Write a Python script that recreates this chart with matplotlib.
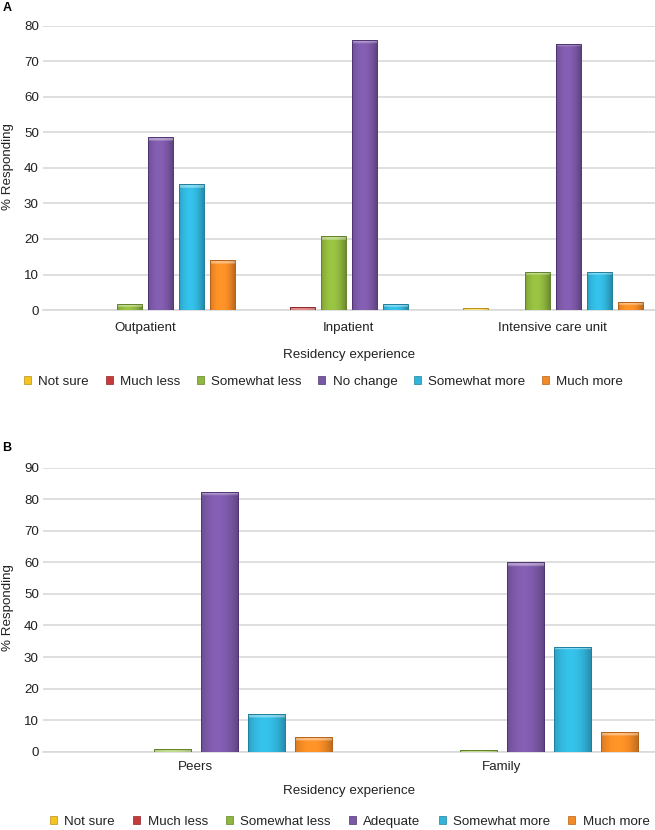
import numpy as np
import matplotlib
matplotlib.use("Agg")
import matplotlib.pyplot as plt
from matplotlib.patches import Patch
from matplotlib.colors import to_rgb

plt.rcParams['font.family'] = ['Liberation Sans', 'DejaVu Sans']

# panel A data
cats_a = ["Outpatient", "Inpatient", "Intensive care unit"]
series_a = ["Not sure", "Much less", "Somewhat less", "No change", "Somewhat more", "Much more"]
not_sure_a = [0, 0, 0.5]
much_less_a = [0, 0.8, 0]
somewhat_less_a = [1.8, 20.8, 10.8]
no_change_a = [48.6, 76.0, 75.0]
somewhat_more_a = [35.4, 1.8, 10.8]
much_more_a = [14.0, 0, 2.3]

# panel B data
cats_b = ["Peers", "Family"]
series_b = ["Not sure", "Much less", "Somewhat less", "Adequate", "Somewhat more", "Much more"]
not_sure_b = [0, 0]
much_less_b = [0, 0]
somewhat_less_b = [0.9, 0.5]
adequate_b = [82.3, 60.1]
somewhat_more_b = [11.8, 33.3]
much_more_b = [4.7, 6.3]

colors = ["#F3C51E", "#C63A3B", "#8FB63E", "#7B58A6", "#31B4DA", "#F28A25"]
edges = ["#B8901A", "#8E2626", "#62822A", "#4F3473", "#1F7F9C", "#B2621A"]
FS = 9.6

fig = plt.figure(figsize=(6.55, 8.30), dpi=100)
ax_a = fig.add_axes([0.0656, 0.6265, 0.934, 0.3422])
ax_b = fig.add_axes([0.0656, 0.0943, 0.934, 0.3422])

# horizontal shading profile for the bevelled look
prof = np.linspace(-1, 1, 40)
shade = 1.08 - 0.25 * prof ** 2 - 0.06 * prof


def shaded_bar(ax, bar, color, cap):
    x0, y0 = bar.get_x(), bar.get_y()
    w, h = bar.get_width(), bar.get_height()
    if h <= 0:
        return
    rgb = np.array(to_rgb(color))
    n = 100
    img = np.clip(shade[None, :, None] * rgb[None, None, :] * np.ones((n, 1, 1)), 0, 1)
    rows = int(round(n * min(cap / h, 1.0)))
    if rows > 0:
        img[:rows] = np.clip(img[:rows] * 0.6 + 0.4, 0, 1)
    im = ax.imshow(img, extent=[x0, x0 + w, y0, y0 + h], aspect='auto',
                   origin='upper', zorder=3, interpolation='bilinear')
    im.set_clip_path(bar)


def draw(ax, cats, names, values, ymax, step, tickpad, labelpad):
    x = np.arange(len(cats))
    w = 0.122
    for i, vals in enumerate(values):
        bars = ax.bar(x + (i - 2.5) * step, vals, w, color=colors[i], edgecolor=edges[i],
                      linewidth=0.7, zorder=3, label=names[i])
        for b in bars:
            shaded_bar(ax, b, colors[i], ymax * 0.012)
            b.set_facecolor('none')
            b.set_zorder(4)
    ax.set_xlim(-0.5, len(cats) - 0.5)
    ax.set_ylim(0, ymax)
    ax.set_yticks(np.arange(0, ymax + 1, 10))
    ax.set_xticks(x)
    ax.set_xticklabels(cats)
    ax.grid(axis='y', color='#D9D9D9', linewidth=1.2, zorder=0)
    for s in ['top', 'right', 'left']:
        ax.spines[s].set_visible(False)
    ax.spines['bottom'].set_color('#D9D9D9')
    ax.spines['bottom'].set_linewidth(1.2)
    ax.tick_params(length=0, labelsize=FS, colors='#222222')
    ax.tick_params(axis='x', pad=tickpad)
    ax.tick_params(axis='y', pad=3)
    ax.set_xlabel("Residency experience", fontsize=FS, color='#222222', labelpad=labelpad)


draw(ax_a, cats_a, series_a,
     [not_sure_a, much_less_a, somewhat_less_a, no_change_a, somewhat_more_a, much_more_a],
     80, 0.152, 8.5, 11)
draw(ax_b, cats_b, series_b,
     [not_sure_b, much_less_b, somewhat_less_b, adequate_b, somewhat_more_b, much_more_b],
     90, 0.1536, 6.5, 8.5)

fig.text(8 / 655, 1 - 166.5 / 830, "% Responding", rotation=90, ha='center', va='center',
         fontsize=FS, color='#222222')
fig.text(8 / 655, 1 - 608 / 830, "% Responding", rotation=90, ha='center', va='center',
         fontsize=FS, color='#222222')


def legend(names, x, y, spacing):
    handles = [Patch(facecolor=colors[i], edgecolor=edges[i], linewidth=0.5) for i in range(6)]
    fig.legend(handles, names, loc='center left', bbox_to_anchor=(x, y), ncol=6,
               frameon=False, fontsize=FS, handlelength=0.53, handleheight=0.53,
               handletextpad=0.55, columnspacing=spacing, borderpad=0, borderaxespad=0,
               labelcolor='#222222')


legend(series_a, 24 / 655, 1 - 381.5 / 830, 1.24)
legend(series_b, 50 / 655, 1 - 822 / 830, 1.36)

fig.text(0.004, 1 - 2 / 830, "A", fontsize=9, fontweight='bold', va='top')
fig.text(0.004, 1 - 442 / 830, "B", fontsize=9, fontweight='bold', va='top')

fig.savefig("out.png", dpi=100)
